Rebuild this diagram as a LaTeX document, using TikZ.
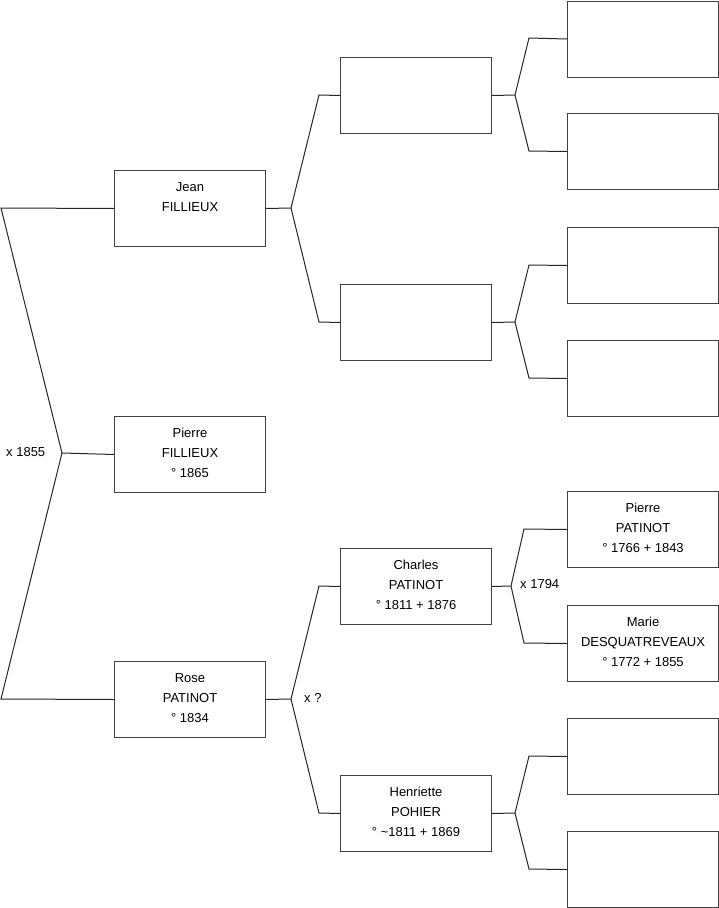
\documentclass[tikz,border=0pt]{standalone}
\usepackage{fontspec}
\setmainfont{Liberation Sans}
\begin{document}
\begin{tikzpicture}[x=1pt,y=-1pt,
  pbox/.style={draw=black!75,line width=1pt,minimum width=151pt,minimum height=76pt,inner sep=0pt,anchor=north west},
  ptext/.style={anchor=north,inner sep=0pt,align=center,font=\fontsize{13}{20}\selectfont},
  plabel/.style={anchor=west,inner sep=0pt,font=\fontsize{13}{16}\selectfont},
  link/.style={line width=1pt,black!85}]
\useasboundingbox (0,0) rectangle (719,908);
% generation 1
\node[pbox] (j) at (114,170) {};
\node[pbox] (p) at (114,416) {};
\node[pbox] (r) at (114,661) {};
% generation 2
\node[pbox] (a1) at (340,57) {};
\node[pbox] (a2) at (340,284) {};
\node[pbox] (a3) at (340,548) {};
\node[pbox] (a4) at (340,775) {};
% generation 3
\node[pbox] (b1) at (567,0.5) {};
\node[pbox] (b2) at (567,113) {};
\node[pbox] (b3) at (567,227) {};
\node[pbox] (b4) at (567,340) {};
\node[pbox] (b5) at (567,491) {};
\node[pbox] (b6) at (567,605) {};
\node[pbox] (b7) at (567,718) {};
\node[pbox] (b8) at (567,831) {};
% texts
\node[ptext] (tj) at ([yshift=-12pt]j.north) {Jean\\FILLIEUX};
\node[ptext] (tp) at ([yshift=-12pt]p.north) {Pierre\\FILLIEUX\\° 1865};
\node[ptext] (tr) at ([yshift=-12pt]r.north) {Rose\\PATINOT\\° 1834};
\node[ptext] (ta3) at ([yshift=-12pt]a3.north) {Charles\\PATINOT\\° 1811 + 1876};
\node[ptext] (ta4) at ([yshift=-12pt]a4.north) {Henriette\\POHIER\\° \textasciitilde1811 + 1869};
\node[ptext] (tb5) at ([yshift=-12pt]b5.north) {Pierre\\PATINOT\\° 1766 + 1843};
\node[ptext] (tb6) at ([yshift=-12pt]b6.north) {Marie\\DESQUATREVEAUX\\° 1772 + 1855};
% marriage labels
\node[plabel] (m1) at (6,452) {x 1855};
\node[plabel] (m2) at (304,698) {x ?};
\node[plabel] (m3) at (520,584) {x 1794};
% connectors generation 0-1
\coordinate (c0) at (62,453);
\coordinate (c0t) at (1,208);
\coordinate (c0b) at (1,699);
\draw[link] (j.west) -- (c0t) -- (c0) -- (c0b) -- (r.west);
\draw[link] (c0) -- (p.west);
% Jean
\coordinate (cj) at (291,208);
\draw[link] (j.east) -- (cj);
\draw[link] (cj) -- (319,95) -- (a1.west);
\draw[link] (cj) -- (319,322) -- (a2.west);
% Rose
\coordinate (cr) at (291,699);
\draw[link] (r.east) -- (cr);
\draw[link] (cr) -- (319,586) -- (a3.west);
\draw[link] (cr) -- (319,813) -- (a4.west);
% generation 2-3
\coordinate (ca1) at (515,95);
\draw[link] (a1.east) -- (ca1);
\draw[link] (ca1) -- (529,38) -- (b1.west);
\draw[link] (ca1) -- (529,151) -- (b2.west);
\coordinate (ca2) at (515,322);
\draw[link] (a2.east) -- (ca2);
\draw[link] (ca2) -- (529,265) -- (b3.west);
\draw[link] (ca2) -- (529,378) -- (b4.west);
\coordinate (ca3) at (511,586);
\draw[link] (a3.east) -- (ca3);
\draw[link] (ca3) -- (524,529) -- (b5.west);
\draw[link] (ca3) -- (524,643) -- (b6.west);
\coordinate (ca4) at (515,813);
\draw[link] (a4.east) -- (ca4);
\draw[link] (ca4) -- (529,756) -- (b7.west);
\draw[link] (ca4) -- (529,869) -- (b8.west);
\end{tikzpicture}
\end{document}
